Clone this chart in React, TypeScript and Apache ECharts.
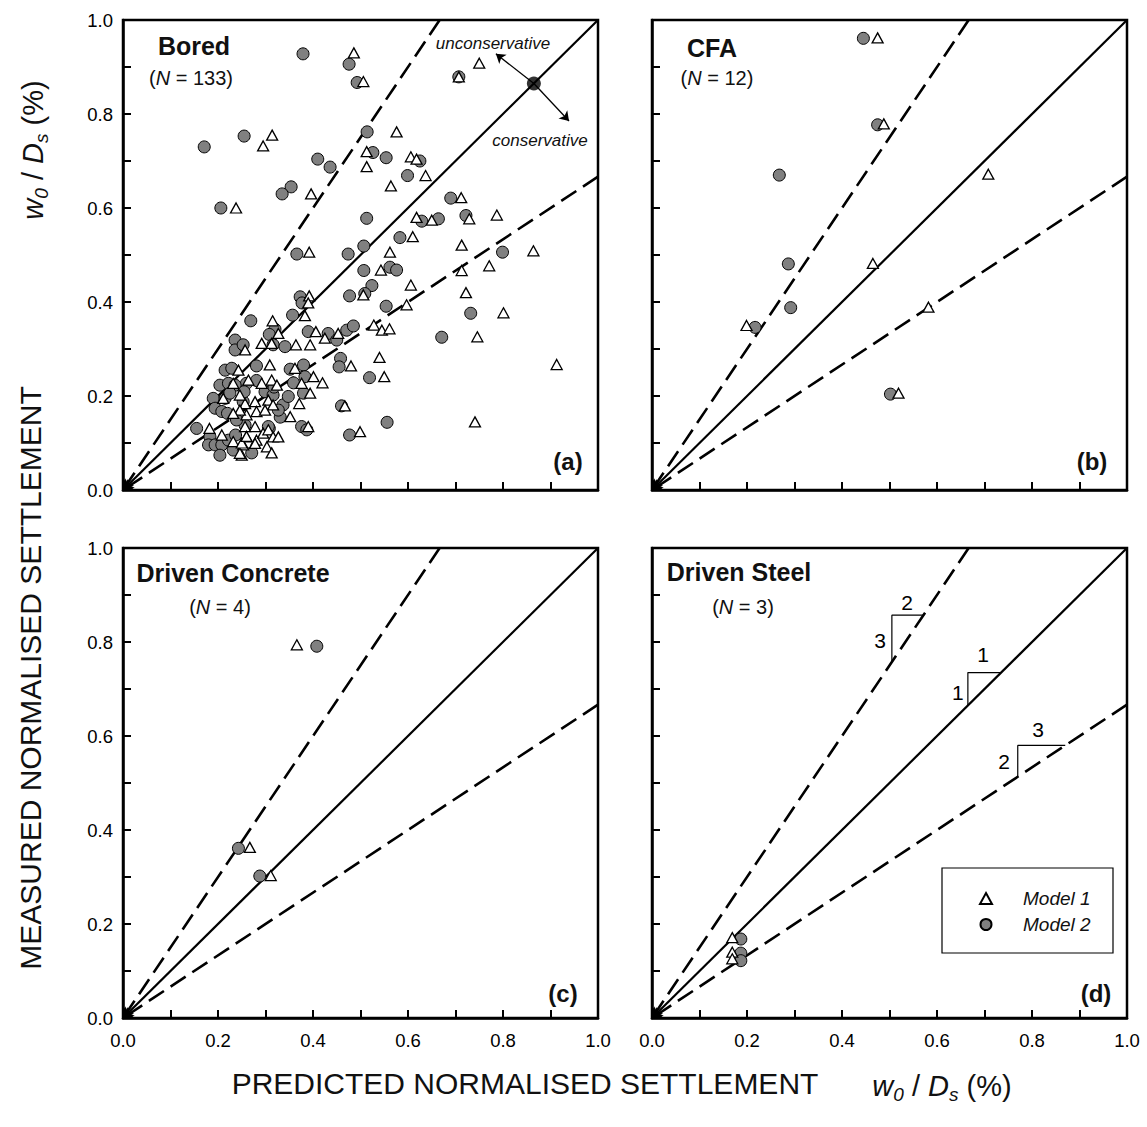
import React, { useEffect, useRef } from 'react';
import * as echarts from 'echarts';

// ---------- data (x = predicted w0/Ds %, y = measured w0/Ds %) ----------
const boredModel1: number[][] = [
  [0.486, 0.930], [0.750, 0.908], [0.707, 0.879], [0.506, 0.869], [0.314, 0.755], [0.295, 0.732],
  [0.396, 0.630], [0.238, 0.600], [0.392, 0.506], [0.576, 0.762], [0.513, 0.720], [0.513, 0.688],
  [0.606, 0.709], [0.618, 0.704], [0.637, 0.669], [0.564, 0.647], [0.712, 0.622], [0.618, 0.580],
  [0.650, 0.574], [0.729, 0.577], [0.787, 0.585], [0.610, 0.539], [0.713, 0.521], [0.562, 0.506],
  [0.864, 0.509], [0.543, 0.468], [0.713, 0.467], [0.771, 0.477], [0.506, 0.415], [0.606, 0.436],
  [0.722, 0.420], [0.597, 0.394], [0.801, 0.377], [0.528, 0.351], [0.545, 0.340], [0.561, 0.343],
  [0.746, 0.326], [0.540, 0.282], [0.913, 0.267], [0.550, 0.241], [0.741, 0.145], [0.499, 0.124],
  [0.392, 0.413], [0.390, 0.398], [0.383, 0.371], [0.315, 0.360], [0.257, 0.298], [0.292, 0.312],
  [0.327, 0.333], [0.364, 0.309], [0.394, 0.309], [0.406, 0.337], [0.425, 0.323], [0.453, 0.333],
  [0.480, 0.264], [0.309, 0.266], [0.362, 0.259], [0.420, 0.228], [0.401, 0.241], [0.376, 0.227],
  [0.394, 0.206], [0.264, 0.234], [0.292, 0.227], [0.313, 0.234], [0.324, 0.223], [0.257, 0.184],
  [0.278, 0.188], [0.306, 0.191], [0.316, 0.181], [0.371, 0.184], [0.467, 0.179], [0.352, 0.156],
  [0.260, 0.160], [0.281, 0.167], [0.299, 0.170], [0.390, 0.135], [0.257, 0.135], [0.278, 0.135],
  [0.260, 0.113], [0.281, 0.106], [0.295, 0.121], [0.306, 0.128], [0.316, 0.113], [0.327, 0.113],
  [0.303, 0.092], [0.313, 0.079], [0.253, 0.096], [0.250, 0.074], [0.278, 0.099], [0.243, 0.255],
  [0.232, 0.227], [0.211, 0.195], [0.246, 0.202], [0.246, 0.170], [0.232, 0.163], [0.182, 0.131],
  [0.208, 0.117], [0.232, 0.103], [0.246, 0.078], [0.250, 0.100], [0.260, 0.114], [0.313, 0.312],
];
const boredModel2: number[][] = [
  [0.379, 0.928], [0.476, 0.906], [0.493, 0.867], [0.707, 0.879], [0.171, 0.730], [0.255, 0.753],
  [0.410, 0.704], [0.436, 0.687], [0.354, 0.645], [0.335, 0.630], [0.206, 0.600], [0.514, 0.762],
  [0.526, 0.718], [0.554, 0.707], [0.625, 0.700], [0.599, 0.669], [0.690, 0.621], [0.513, 0.578],
  [0.629, 0.572], [0.664, 0.577], [0.722, 0.584], [0.583, 0.537], [0.507, 0.519], [0.799, 0.506],
  [0.366, 0.502], [0.474, 0.502], [0.507, 0.467], [0.562, 0.474], [0.576, 0.468], [0.524, 0.435],
  [0.509, 0.418], [0.554, 0.391], [0.732, 0.376], [0.671, 0.325], [0.519, 0.239], [0.556, 0.144],
  [0.477, 0.413], [0.373, 0.411], [0.377, 0.398], [0.357, 0.372], [0.269, 0.360], [0.320, 0.342],
  [0.390, 0.337], [0.432, 0.333], [0.450, 0.319], [0.471, 0.340], [0.485, 0.349], [0.458, 0.280],
  [0.455, 0.262], [0.281, 0.264], [0.352, 0.257], [0.380, 0.266], [0.359, 0.228], [0.383, 0.241],
  [0.380, 0.206], [0.260, 0.227], [0.281, 0.233], [0.299, 0.209], [0.316, 0.202], [0.253, 0.188],
  [0.337, 0.181], [0.348, 0.199], [0.460, 0.179], [0.331, 0.155], [0.376, 0.135], [0.387, 0.128],
  [0.477, 0.117], [0.271, 0.079], [0.308, 0.131], [0.236, 0.319], [0.236, 0.298], [0.253, 0.309],
  [0.308, 0.331], [0.316, 0.309], [0.341, 0.305], [0.215, 0.255], [0.229, 0.259], [0.204, 0.223],
  [0.222, 0.227], [0.236, 0.223], [0.190, 0.195], [0.194, 0.174], [0.208, 0.167], [0.220, 0.163],
  [0.215, 0.195], [0.225, 0.206], [0.155, 0.131], [0.183, 0.113], [0.180, 0.096], [0.194, 0.096],
  [0.208, 0.096], [0.204, 0.074], [0.222, 0.106], [0.232, 0.085], [0.255, 0.209], [0.257, 0.138],
  [0.239, 0.149], [0.237, 0.117], [0.306, 0.135], [0.327, 0.170], [0.318, 0.219],
];
const cfaModel1: number[][] = [
  [0.475, 0.962], [0.488, 0.779], [0.708, 0.672], [0.465, 0.482], [0.582, 0.389], [0.199, 0.350], [0.519, 0.206],
];
const cfaModel2: number[][] = [
  [0.445, 0.961], [0.475, 0.777], [0.268, 0.670], [0.287, 0.481], [0.292, 0.388], [0.217, 0.346], [0.502, 0.204],
];
const concreteModel1: number[][] = [[0.366, 0.794], [0.267, 0.363], [0.311, 0.303]];
const concreteModel2: number[][] = [[0.408, 0.791], [0.243, 0.361], [0.288, 0.302]];
const steelModel1: number[][] = [[0.169, 0.171], [0.169, 0.140], [0.169, 0.126]];
const steelModel2: number[][] = [[0.187, 0.168], [0.187, 0.138], [0.187, 0.122]];

const panelNames = ['Bored', 'CFA', 'Driven Concrete', 'Driven Steel'];
const panelCounts = ['133', '12', '4', '3'];
const panelLetters = ['(a)', '(b)', '(c)', '(d)'];
const refSlopes = [1.5, 1, 2 / 3];
const boundaryPoint = [0.865, 0.865];
const boundaryArrowEnds = [[0.785, 0.928], [0.939, 0.785]];
const slopeTriangles: number[][][] = [
  [[0.505, 0.758], [0.505, 0.857], [0.571, 0.857]],
  [[0.665, 0.665], [0.665, 0.735], [0.735, 0.735]],
  [[0.77, 0.513], [0.77, 0.58], [0.87, 0.58]],
];
const slopeLabels: (number | string)[][] = [
  [0.537, 0.885, '2'], [0.48, 0.804, '3'],
  [0.697, 0.773, '1'], [0.644, 0.692, '1'],
  [0.813, 0.613, '3'], [0.741, 0.545, '2'],
];

const FONT = '"Liberation Sans", Arial, sans-serif';

export default function App() {
  const ref = useRef<HTMLDivElement>(null);
  useEffect(() => {
    document.body.style.margin = '0';
    const chart = echarts.init(ref.current!, null, { renderer: 'svg' });

    const grids = [
      { left: 123, top: 20 },
      { left: 652, top: 20 },
      { left: 123, top: 548 },
      { left: 652, top: 548 },
    ].map((g) => ({
      ...g, width: 475, height: 470, show: true, borderColor: '#000', borderWidth: 2.5,
      backgroundColor: 'transparent', containLabel: false,
    }));

    const fmt = (v: number) => (Math.round(v * 10) % 2 === 0 ? v.toFixed(1) : '');
    const axisCommon = (i: number, showLabel: boolean, isX: boolean) => ({
      gridIndex: i, type: 'value', min: 0, max: 1, interval: 0.1,
      axisLine: { show: true, onZero: false, lineStyle: { color: '#000', width: 2.5 } },
      axisTick: { show: true, inside: true, length: 8, lineStyle: { color: '#000', width: 2 } },
      axisLabel: {
        show: showLabel, formatter: fmt, color: '#000', fontSize: 18.5, fontFamily: FONT,
        margin: isX ? 13 : 10,
      },
      splitLine: { show: false },
    });
    const xAxis = [0, 1, 2, 3].map((i) => axisCommon(i, i >= 2, true));
    const yAxis = [0, 1, 2, 3].map((i) => axisCommon(i, i % 2 === 0, false));

    const model1 = [boredModel1, cfaModel1, concreteModel1, steelModel1];
    const model2 = [boredModel2, cfaModel2, concreteModel2, steelModel2];

    const series: any[] = [];
    for (let i = 0; i < 4; i++) {
      refSlopes.forEach((s) => {
        const xe = Math.min(1, 1 / s);
        series.push({
          type: 'lines', coordinateSystem: 'cartesian2d', xAxisIndex: i, yAxisIndex: i,
          silent: true, z: 2,
          symbol: ['none', 'arrow'], symbolSize: [7, 10],
          lineStyle: {
            color: '#000', width: s === 1 ? 2.2 : 2.6, opacity: 1,
            type: s === 1 ? 'solid' : [18, 8],
          },
          data: [{ coords: [[xe, xe * s], [0, 0]] }],
        });
      });
      series.push({
        name: 'Model 2', type: 'scatter', xAxisIndex: i, yAxisIndex: i, z: 3,
        symbol: 'circle', symbolSize: 12,
        itemStyle: { color: '#808080', borderColor: '#000', borderWidth: 1, opacity: 1 },
        data: model2[i],
      });
      series.push({
        name: 'Model 1', type: 'scatter', xAxisIndex: i, yAxisIndex: i, z: 4,
        symbol: 'triangle', symbolSize: [11, 10],
        itemStyle: { color: '#fff', borderColor: '#000', borderWidth: 1.3, opacity: 1 },
        data: model1[i],
      });
    }
    // boundary point with arrows in panel (a)
    series.push({
      type: 'lines', coordinateSystem: 'cartesian2d', xAxisIndex: 0, yAxisIndex: 0, z: 5,
      symbol: ['none', 'arrow'], symbolSize: [7, 9],
      lineStyle: { color: '#000', width: 1.3, opacity: 1 },
      data: boundaryArrowEnds.map((e) => ({ coords: [boundaryPoint, e] })),
    });
    series.push({
      type: 'scatter', xAxisIndex: 0, yAxisIndex: 0, z: 6, symbolSize: 14,
      itemStyle: { color: '#000' }, data: [boundaryPoint], silent: true,
    });
    // slope triangles in panel (d)
    slopeTriangles.forEach((t) => {
      series.push({
        type: 'line', xAxisIndex: 3, yAxisIndex: 3, z: 5, symbol: 'none', silent: true,
        lineStyle: { color: '#000', width: 1.2 }, data: t,
      });
    });
    series.push({
      type: 'scatter', xAxisIndex: 3, yAxisIndex: 3, z: 5, symbolSize: 1, silent: true,
      itemStyle: { color: 'transparent' },
      data: slopeLabels,
      label: {
        show: true, position: 'inside', formatter: (p: any) => p.data[2],
        fontSize: 21, color: '#000', fontFamily: FONT, textBorderWidth: 0, opacity: 1,
      },
    });

    const ital = { fontStyle: 'italic', fontFamily: FONT };
    const nRich = (fs: number) => ({
      a: { fontSize: fs, fontFamily: FONT, fill: '#111' },
      i: { fontSize: fs, fontFamily: FONT, fontStyle: 'italic', fill: '#111' },
    });
    const varRich = {
      t: { fontSize: 29, fontFamily: FONT, lineHeight: 36, fill: '#111' },
      v: { fontSize: 29, fontFamily: FONT, fontStyle: 'italic', lineHeight: 36, fill: '#111' },
      sub: { fontSize: 19, fontFamily: FONT, fontStyle: 'italic', lineHeight: 19, verticalAlign: 'bottom', fill: '#111' },
    };
    const varText = '{v|w}{sub|0}{t| / }{v|D}{sub|s}{t| (%)}';

    const namePos = [[194, 46], [712, 48], [233, 573], [739, 572]];
    const nPos = [[191, 78], [717, 78], [220, 607], [743, 607]];
    const letterPos = [[568, 461], [1092, 461], [563, 993], [1096, 993]];
    const graphic: any[] = [];
    for (let i = 0; i < 4; i++) {
      graphic.push({
        type: 'text', x: namePos[i][0], y: namePos[i][1], z: 10,
        style: { text: panelNames[i], font: `bold 25px ${FONT}`, fill: '#111', align: 'center', verticalAlign: 'middle' },
      });
      graphic.push({
        type: 'text', x: nPos[i][0], y: nPos[i][1], z: 10,
        style: { text: `{a|(}{i|N}{a| = ${panelCounts[i]})}`, rich: nRich(20), align: 'center', verticalAlign: 'middle' },
      });
      graphic.push({
        type: 'text', x: letterPos[i][0], y: letterPos[i][1], z: 10,
        style: { text: panelLetters[i], font: `bold 24px ${FONT}`, fill: '#111', align: 'center', verticalAlign: 'middle' },
      });
    }
    graphic.push(
      { type: 'text', x: 493, y: 43, z: 10, style: { text: 'unconservative', font: `italic 17px ${FONT}`, fill: '#111', align: 'center', verticalAlign: 'middle' } },
      { type: 'text', x: 540, y: 140, z: 10, style: { text: 'conservative', font: `italic 17px ${FONT}`, fill: '#111', align: 'center', verticalAlign: 'middle' } },
      // legend box
      { type: 'rect', z: 10, shape: { x: 942, y: 868, width: 171, height: 85 }, style: { fill: '#fff', stroke: '#000', lineWidth: 1.2 } },
      // x axis title
      { type: 'text', x: 525, y: 1083, z: 10, style: { text: 'PREDICTED NORMALISED SETTLEMENT', font: `30px ${FONT}`, fill: '#111', align: 'center', verticalAlign: 'middle' } },
      { type: 'text', x: 942, y: 1086, z: 10, style: { text: varText, rich: varRich, align: 'center', verticalAlign: 'middle' } },
      // y axis title
      { type: 'text', x: 30, y: 678, rotation: Math.PI / 2, z: 10, style: { text: 'MEASURED NORMALISED SETTLEMENT', font: `30px ${FONT}`, fill: '#111', align: 'center', verticalAlign: 'middle' } },
      { type: 'text', x: 33, y: 150, rotation: Math.PI / 2, z: 10, style: { text: varText, rich: varRich, align: 'center', verticalAlign: 'middle' } },
    );

    chart.setOption({
      animation: false,
      grid: grids,
      xAxis,
      yAxis,
      series,
      graphic,
      legend: {
        data: ['Model 1', 'Model 2'], orient: 'vertical', left: 979, top: 889, padding: 0,
        itemWidth: 12, itemHeight: 11, itemGap: 7, selectedMode: false, z: 20,
        textStyle: { ...ital, fontSize: 19, color: '#111', padding: [0, 0, 0, 26] },
      },
    });
    return () => chart.dispose();
  }, []);
  return <div ref={ref} style={{ width: 1147, height: 1127 }} />;
}
